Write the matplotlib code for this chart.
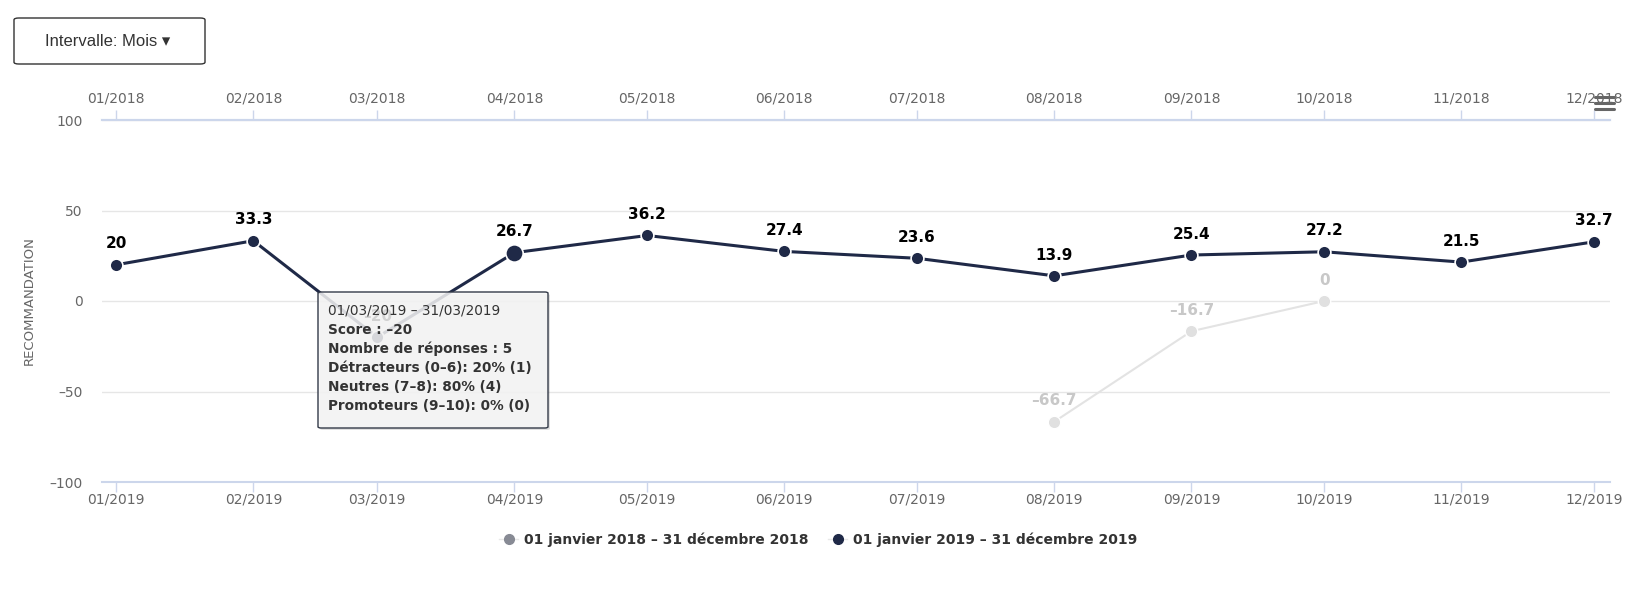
import matplotlib
matplotlib.use("Agg")
import matplotlib.pyplot as plt
import matplotlib.dates as mdates
from matplotlib.patches import FancyBboxPatch
from matplotlib.lines import Line2D
import pandas as pd

# --- données ---
mois_2019 = pd.date_range("2019-01-01", periods=12, freq="MS")
labels_bas = [f"{m:02d}/2019" for m in range(1, 13)]
labels_haut = [f"{m:02d}/2018" for m in range(1, 13)]
score_2019 = [20, 33.3, -20, 26.7, 36.2, 27.4, 23.6, 13.9, 25.4, 27.2, 21.5, 32.7]
# la série 2018 n'a que trois points (08, 09, 10)
idx_2018 = [7, 8, 9]
score_2018 = [-66.7, -16.7, 0]
legende = ["01 janvier 2018 – 31 décembre 2018", "01 janvier 2019 – 31 décembre 2019"]
tooltip_titre = "01/03/2019 – 31/03/2019"
tooltip_lignes = [
    "Score : –20",
    "Nombre de réponses : 5",
    "Détracteurs (0–6): 20% (1)",
    "Neutres (7–8): 80% (4)",
    "Promoteurs (9–10): 0% (0)",
]

W, H = 1629, 605
fx = lambda px: px / W
fy = lambda py: 1 - py / H

C_DARK = "#1f2947"
C_LIGHT = "#e3e3e3"
C_AXIS = "#ccd6eb"
C_TICK = "#666666"

plt.rcParams["font.family"] = ["DejaVu Sans"]
fig = plt.figure(figsize=(W / 100, H / 100), dpi=100)
ax = fig.add_axes([fx(102), fy(482), fx(1610) - fx(102), fy(120) - fy(482)])

xnum = mdates.date2num(mois_2019)
ax.set_xlim(xnum[0] - 3.2, xnum[-1] + 3.6)
ax.set_ylim(-100, 100)

# série 2018 (estompée)
x18 = [xnum[i] for i in idx_2018]
ax.plot(x18, score_2018, color=C_LIGHT, lw=1.5, zorder=2)
ax.plot(x18, score_2018, "o", color="#e0e0e0", ms=9, mec="white", mew=1, zorder=2)
for x, v in zip(x18, score_2018):
    ax.annotate(f"{v:g}".replace("-", "–"), (x, v), xytext=(0, 15), textcoords="offset points",
                ha="center", va="center", fontsize=11, fontweight="bold", color="#c8c8c8")

# série 2019
ax.plot(xnum, score_2019, color=C_DARK, lw=2.2, zorder=3)
sizes = [9.2] * 12
sizes[3] = 12.5
for x, v, s in zip(xnum, score_2019, sizes):
    ax.plot([x], [v], "o", color=C_DARK, ms=s, mec="white", mew=1.2, zorder=4)
    ax.annotate(f"{v:g}".replace("-", "–"), (x, v), xytext=(0, 15), textcoords="offset points",
                ha="center", va="center", fontsize=11, fontweight="bold", color="black", zorder=5)

# axes
ax.set_yticks([-100, -50, 0, 50, 100])
ax.set_yticklabels(["–100", "–50", "0", "50", "100"])
ax.grid(axis="y", color="#e6e6e6", lw=1)
ax.set_axisbelow(True)
for s in ["left", "right"]:
    ax.spines[s].set_visible(False)
for s in ["top", "bottom"]:
    ax.spines[s].set_color(C_AXIS)
    ax.spines[s].set_linewidth(1.5)
ax.tick_params(axis="y", length=0, pad=14, labelsize=10, labelcolor=C_TICK)
ax.set_xticks(xnum)
ax.set_xticklabels(labels_bas)
ax.tick_params(axis="x", direction="out", length=7.5, color=C_AXIS, width=1,
               labelsize=10, labelcolor=C_TICK, pad=0)
ax.set_ylabel("RECOMMANDATION", fontsize=9.5, color=C_TICK, labelpad=10)

top = ax.twiny()
top.set_xlim(ax.get_xlim())
top.set_xticks(xnum)
top.set_xticklabels(labels_haut)
top.tick_params(axis="x", direction="out", length=7.5, color=C_AXIS, width=1,
                labelsize=10, labelcolor=C_TICK, pad=3)
for s in ["left", "right", "bottom"]:
    top.spines[s].set_visible(False)
top.spines["top"].set_color(C_AXIS)
top.spines["top"].set_linewidth(1.5)

# légende
handles = [
    Line2D([], [], color="#e8e8e8", lw=1, marker="o", ms=7, mfc="#878a94", mec="#878a94"),
    Line2D([], [], color="#e8e8e8", lw=1, marker="o", ms=7, mfc=C_DARK, mec=C_DARK),
]
leg = fig.legend(handles, legende, loc="center", bbox_to_anchor=(fx(818), fy(540)), ncol=2,
                 frameon=False, handlelength=1.4, handletextpad=0.4, columnspacing=1.4,
                 prop={"size": 10, "weight": "bold"})
for t in leg.get_texts():
    t.set_color("#333333")

# bouton "Intervalle"
btn = FancyBboxPatch((fx(14), fy(64)), fx(205) - fx(14), fy(18) - fy(64),
                     boxstyle="round,pad=0,rounding_size=0.003", transform=fig.transFigure,
                     fc="white", ec="#333333", lw=1)
fig.add_artist(btn)
fig.text(fx(108), fy(41), "Intervalle: Mois ▾", ha="center", va="center", fontsize=12,
         color="#333333", family=["Liberation Sans", "DejaVu Sans"])

# menu hamburger
for yy in [97, 103, 109]:
    fig.add_artist(Line2D([fx(1595), fx(1614)], [fy(yy), fy(yy)], color="#666666", lw=2.2,
                          solid_capstyle="round", transform=fig.transFigure))

# infobulle
shadow = FancyBboxPatch((fx(320), fy(430)), fx(548) - fx(318), fy(292) - fy(428),
                        boxstyle="round,pad=0,rounding_size=0.002", transform=fig.transFigure,
                        fc="black", ec="none", alpha=0.12, zorder=9)
box = FancyBboxPatch((fx(318), fy(428)), fx(548) - fx(318), fy(292) - fy(428),
                     boxstyle="round,pad=0,rounding_size=0.002", transform=fig.transFigure,
                     fc=(0.97, 0.97, 0.97, 0.85), ec="#333a48", lw=1, zorder=10)
fig.add_artist(shadow)
fig.add_artist(box)
fig.text(fx(328), fy(311), tooltip_titre, ha="left", va="center", fontsize=9.8,
         color="#333333", zorder=11)
for i, ligne in enumerate(tooltip_lignes):
    fig.text(fx(328), fy(330 + 19 * i), ligne, ha="left", va="center", fontsize=9.8,
             fontweight="bold", color="#333333", zorder=11)

fig.savefig("out.png", dpi=100)
